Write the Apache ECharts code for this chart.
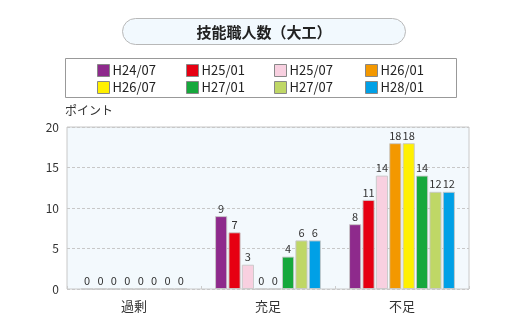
<!DOCTYPE html>
<html><head><meta charset="utf-8">
<script src="https://cdn.jsdelivr.net/npm/echarts@6/dist/echarts.min.js"></script>
<style>html,body{margin:0;padding:0;background:#fff}#c{width:520px;height:327px}</style>
</head><body><div id="c"></div>
<script>
const categories = ['過剰', '充足', '不足'];
const seriesNames = ['H24/07', 'H25/01', 'H25/07', 'H26/01', 'H26/07', 'H27/01', 'H27/07', 'H28/01'];
const H24_07 = [0, 9, 8];
const H25_01 = [0, 7, 11];
const H25_07 = [0, 3, 14];
const H26_01 = [0, 0, 18];
const H26_07 = [0, 0, 18];
const H27_01 = [0, 4, 14];
const H27_07 = [0, 6, 12];
const H28_01 = [0, 6, 12];
const seriesValues = [H24_07, H25_01, H25_07, H26_01, H26_07, H27_01, H27_07, H28_01];
const colors = ['#8e2a8c', '#e60012', '#f8d0e0', '#f39800', '#fff000', '#16a83c', '#bfd766', '#00a0e6'];
const yTicks = { min: 0, max: 20, interval: 5 };

const FONT = '"Noto Sans CJK JP", "Noto Sans", sans-serif';
const chart = echarts.init(document.getElementById('c'), null, { renderer: 'canvas' });

const legendPos = [[97, 64], [186, 64], [274, 64], [365, 64], [97, 81], [186, 81], [274, 81], [365, 81]];
const legends = seriesNames.map((n, i) => ({
  data: [n], left: legendPos[i][0], top: legendPos[i][1],
  itemWidth: 12, itemHeight: 12, itemGap: 3, padding: 0,
  icon: 'rect',
  itemStyle: { borderColor: '#888', borderWidth: 1 },
  textStyle: { fontFamily: FONT, fontSize: 13, color: '#222', padding: [0, 0, 0, -2] },
  selectedMode: false
}));

chart.setOption({
  animation: false,
  color: colors,
  graphic: [
    { type: 'rect', shape: { x: 122.5, y: 18.5, width: 283, height: 26, r: 13 },
      style: { fill: '#f2f9fe', stroke: '#b8b8b8', lineWidth: 1 } },
    { type: 'text', x: 264, y: 32, style: { text: '技能職人数（大工）', fontFamily: FONT, fontSize: 15, fontWeight: 'bold', fill: '#222', align: 'center', verticalAlign: 'middle' } },
    { type: 'rect', shape: { x: 65.5, y: 58.5, width: 391, height: 39 },
      style: { fill: '#fff', stroke: '#999', lineWidth: 1 } }
  ],
  legend: legends,
  grid: { left: 67, right: 51, top: 127, bottom: 38, show: true, backgroundColor: '#f3f9fd', borderColor: '#c8c8c8', borderWidth: 1 },
  xAxis: {
    type: 'category', data: categories,
    axisLine: { show: false },
    axisTick: { show: true, inside: true, length: 3, lineStyle: { color: '#ccc' } },
    axisLabel: { fontFamily: FONT, fontSize: 13, color: '#333', margin: 11 }
  },
  yAxis: {
    type: 'value', min: yTicks.min, max: yTicks.max, interval: yTicks.interval,
    name: 'ポイント', nameLocation: 'end', nameGap: 11,
    nameTextStyle: { fontFamily: FONT, fontSize: 12, color: '#333', align: 'left', padding: [0, 0, 0, -2] },
    axisLine: { show: false }, axisTick: { show: false },
    axisLabel: { fontFamily: FONT, fontSize: 12, color: '#333', margin: 8 },
    splitLine: { lineStyle: { color: '#c8c8c8', type: [3, 2] } }
  },
  series: seriesNames.map((n, i) => ({
    name: n, type: 'bar', data: seriesValues[i],
    barGap: '10%', barCategoryGap: '21%',
    itemStyle: { borderColor: 'rgba(200,200,200,0.9)', borderWidth: 1 },
    label: { show: true, position: 'top', distance: 2, fontFamily: FONT, fontSize: 11, color: '#333' }
  }))
});
</script></body></html>
